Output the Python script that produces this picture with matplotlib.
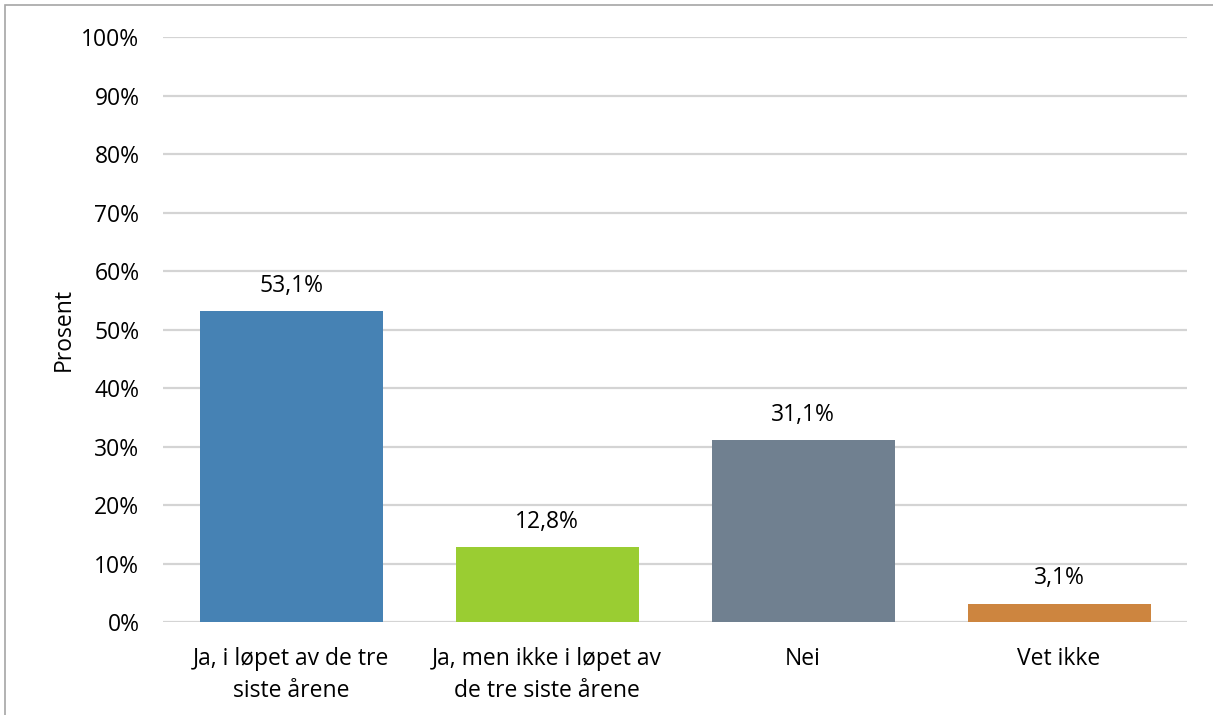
import matplotlib.pyplot as plt
from matplotlib.patches import Rectangle
from matplotlib.ticker import FuncFormatter

categories = ["Ja, i løpet av de tre\nsiste årene",
              "Ja, men ikke i løpet av\nde tre siste årene",
              "Nei",
              "Vet ikke"]
values = [53.1, 12.8, 31.1, 3.1]
colors = ["#4682B4", "#9ACD32", "#708090", "#CD853F"]

plt.rcParams['font.family'] = ['Open Sans', 'DejaVu Sans']
fs = 16.5

fig = plt.figure(figsize=(12.13, 7.15), dpi=100)
ax = fig.add_axes([0.1344, 0.130, 0.8442, 0.818])

x = range(len(categories))
bars = ax.bar(x, values, width=0.715, color=colors, zorder=3)

for b, v in zip(bars, values):
    ax.text(b.get_x() + b.get_width() / 2, v + 2.3, f"{v:.1f}%".replace(".", ","),
            ha="center", va="bottom", fontsize=fs, color="#000000")

ax.set_xlim(-0.5, 3.5)
ax.set_ylim(0, 100)
ax.set_yticks(range(0, 101, 10))
ax.yaxis.set_major_formatter(FuncFormatter(lambda v, p: f"{int(v)}%"))
ax.set_xticks(list(x))
ax.set_xticklabels(categories, fontsize=fs, linespacing=1.45)
ax.tick_params(axis="y", labelsize=fs, length=0, pad=17)
ax.tick_params(axis="x", length=0, pad=18)
ax.grid(axis="y", color="#d4d4d4", linewidth=1.6, zorder=0)
for s in ax.spines.values():
    s.set_visible(False)
ax.set_ylabel("Prosent", fontsize=fs, labelpad=4)

# outer chart border
fig.patches.append(Rectangle((5 / 1213, -0.1), 1.2, 1 - 5 / 715 + 0.1,
                             transform=fig.transFigure, fill=False,
                             edgecolor="#a6a6a6", linewidth=1.2))

fig.savefig("out.png", dpi=100)
